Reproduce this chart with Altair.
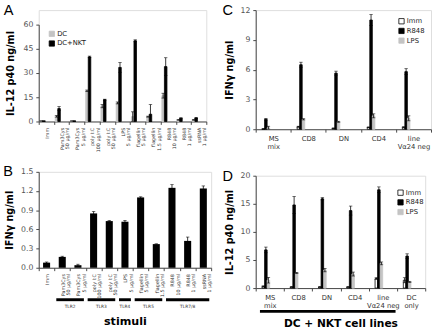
import altair as alt
import pandas as pd

FONT = "DejaVu Sans"
LETTER_FONT = "Liberation Sans"

# ---------------- Panel A : IL-12 p40, DC vs DC+NKT ----------------
a_stimuli = ["Imm", "Pam3Cys|50 µg/ml", "Pam3Cys|5 µg/ml", "poly I:C|100 µg/ml",
             "poly I:C|50 µg/ml", "LPS|5 µg/ml", "flagellin|5 µg/ml",
             "flagellin|1.5 µg/ml", "R848|10 µg/ml", "R848|1 µg/ml", "ssRNA|1 µg/ml"]
a_series = ["DC", "DC+NKT"]
a_dc = [0.3, 3.2, 0.3, 19.0, 9.5, 11.5, 3.0, 3.0, 16.0, 1.0, 1.0]
a_dc_err = [0.1, 0.5, 0.1, 0.5, 1.0, 0.6, 3.0, 0.3, 1.5, 0.2, 0.2]
a_nkt = [0.3, 8.0, 0.3, 40.0, 13.5, 33.5, 50.0, 4.5, 34.0, 2.0, 2.2]
a_nkt_err = [0.1, 1.2, 0.1, 0.5, 0.3, 3.0, 0.6, 6.0, 5.5, 0.3, 0.3]

# ---------------- Panel B : IFNg per stimulus ----------------
b_values = [0.08, 0.17, 0.04, 0.85, 0.73, 0.72, 1.10, 0.37, 1.25, 0.42, 1.24]
b_err = [0.01, 0.01, 0.015, 0.03, 0.01, 0.02, 0.01, 0.005, 0.05, 0.06, 0.04]
tlr_labels = ["TLR2", "TLR3", "TLR4", "TLR5", "TLR7/8"]
tlr_start = ["Pam3Cys|50 µg/ml", "poly I:C|100 µg/ml", "LPS|5 µg/ml", "flagellin|5 µg/ml", "R848|10 µg/ml"]
tlr_end = ["Pam3Cys|5 µg/ml", "poly I:C|50 µg/ml", "LPS|5 µg/ml", "flagellin|1.5 µg/ml", "ssRNA|1 µg/ml"]

# ---------------- Panel C : IFNg per NKT line ----------------
c_lines = ["MS|mix", "CD8", "DN", "CD4", "line|Vα24 neg"]
cd_series = ["Imm", "R848", "LPS"]
c_imm = [0.03, 0.25, 0.1, 0.2, 0.2]
c_imm_err = [0.02, 0.05, 0.02, 0.02, 0.05]
c_r848 = [1.0, 6.5, 5.65, 11.0, 5.8]
c_r848_err = [0.08, 0.25, 0.2, 0.55, 0.3]
c_lps = [0.15, 1.0, 0.75, 1.35, 1.1]
c_lps_err = [0.15, 0.06, 0.05, 0.2, 0.25]

# ---------------- Panel D : IL-12 p40 per NKT line ----------------
d_lines = ["MS|mix", "CD8", "DN", "CD4", "line|Vα24 neg", "DC|only"]
d_imm = [0.3, 0.2, 0.2, 0.2, 1.7, 1.4]
d_imm_err = [0.1, 0.05, 0.05, 0.05, 0.15, 0.45]
d_r848 = [6.8, 14.8, 15.9, 13.8, 17.5, 5.7]
d_r848_err = [0.5, 1.5, 0.2, 0.8, 0.5, 0.4]
d_lps = [1.4, 2.7, 3.2, 2.5, 4.4, 1.1]
d_lps_err = [0.5, 0.1, 0.3, 0.35, 0.25, 0.1]
d_span_start = ["MS|mix"]
d_span_end = ["line|Vα24 neg"]


def long_df(cats, series, vals, errs):
    rows = []
    for s, v, e in zip(series, vals, errs):
        for c, vv, ee in zip(cats, v, e):
            rows.append({"cat": c, "series": s, "value": vv,
                         "lo": max(vv - ee, 0), "hi": vv + ee})
    return pd.DataFrame(rows)


def y_enc(field, domain, rng, values, title, fmt=None, title_pad=6):
    ax_kw = dict(values=values, title=title, titleFontSize=10, titleFontWeight="bold",
                 titleFont=FONT, titleColor="black", titlePadding=title_pad,
                 labelFontSize=8, labelFont=FONT, labelColor="#555", labelPadding=3,
                 tickSize=3, domainColor="#444", tickColor="#444", grid=False)
    if fmt:
        ax_kw["format"] = fmt
    sc_kw = dict(domain=domain, nice=False, zero=True)
    if rng is not None:
        sc_kw["range"] = rng
    return alt.Y(f"{field}:Q", scale=alt.Scale(**sc_kw), axis=alt.Axis(**ax_kw))


def letter(txt, offset, dx=-2):
    return alt.TitleParams(txt, anchor="start", frame="bounds", font=LETTER_FONT,
                           fontSize=15, fontWeight="normal", color="black",
                           dx=dx, offset=offset)


def grouped_panel(df, cats, series, fills, strokes, width, height, ydom, yrng, yvals,
                  ytitle, xaxis, off_inner, off_outer, leg_x, leg_y, title,
                  ytitle_pad=6, extra=None):
    xenc = alt.X("cat:N", sort=cats,
                 scale=alt.Scale(domain=cats, paddingInner=0, paddingOuter=0), axis=xaxis)
    xoff = alt.XOffset("series:N", sort=series,
                       scale=alt.Scale(domain=series, paddingInner=off_inner, paddingOuter=off_outer))
    leg = alt.Legend(title=None, orient="none", legendX=leg_x, legendY=leg_y,
                     symbolType="square", symbolSize=30, symbolStrokeWidth=0.8,
                     labelFontSize=7, labelFont=FONT, labelColor="#222",
                     rowPadding=1, labelOffset=2, padding=0)
    bars = alt.Chart(df).mark_bar(strokeWidth=0.8).encode(
        x=xenc, xOffset=xoff,
        y=y_enc("value", ydom, yrng, yvals, ytitle, title_pad=ytitle_pad),
        color=alt.Color("series:N", sort=series, scale=alt.Scale(domain=series, range=fills), legend=leg),
        stroke=alt.Stroke("series:N", sort=series, scale=alt.Scale(domain=series, range=strokes), legend=leg),
    )
    rules = alt.Chart(df).mark_rule(color="black", strokeWidth=0.8).encode(
        x=xenc, xOffset=xoff,
        y=y_enc("lo", ydom, yrng, yvals, ytitle, title_pad=ytitle_pad), y2=alt.Y2("hi"))
    tick_hi = alt.Chart(df).mark_tick(color="black", thickness=0.8, size=3.5).encode(
        x=xenc, xOffset=xoff, y=y_enc("hi", ydom, yrng, yvals, ytitle, title_pad=ytitle_pad))
    tick_lo = alt.Chart(df).mark_tick(color="black", thickness=0.8, size=3.5).encode(
        x=xenc, xOffset=xoff, y=y_enc("lo", ydom, yrng, yvals, ytitle, title_pad=ytitle_pad))
    layers = [bars, rules, tick_hi, tick_lo]
    if extra:
        layers += extra()
    return alt.layer(*layers).properties(width=width, height=height, title=title)


def x_axis(fs, angle, lh, title=None, title_pad=4, title_fs=11, label_color="#333"):
    kw = dict(labelExpr="split(datum.label, '|')", labelFontSize=fs, labelFont=FONT,
              labelColor=label_color, labelAngle=angle, labelLineHeight=lh, labelPadding=3,
              tickBand="extent", tickSize=3, domainColor="#444", tickColor="#444",
              labelOverlap=False, titleFont=FONT, titleFontSize=title_fs,
              titleFontWeight="bold", titleColor="black", titlePadding=title_pad)
    kw["title"] = title
    return alt.Axis(**kw)


# ---------- A ----------
dfA = long_df(a_stimuli, a_series, [a_dc, a_nkt], [a_dc_err, a_nkt_err])
A_W, A_H = 173, 115
panelA = grouped_panel(
    dfA, a_stimuli, a_series, ["#c4c4c4", "black"], ["#c4c4c4", "black"],
    A_W, A_H, [0, 60], [A_H, 15], [0, 15, 30, 45, 60], "IL-12 p40 ng/ml",
    x_axis(5, 270, 5.5), 0, 0.5, 10, 21, letter("A", -8), ytitle_pad=8)

# ---------- B ----------
dfB = pd.DataFrame({"cat": a_stimuli, "value": b_values,
                    "lo": [max(v - e, 0) for v, e in zip(b_values, b_err)],
                    "hi": [v + e for v, e in zip(b_values, b_err)]})
B_W, B_H = 178, 99
xB_axis = x_axis(5, 270, 5.5, title="stimuli", title_pad=18, title_fs=11.5)
xB_scale = alt.Scale(domain=a_stimuli, paddingInner=0, paddingOuter=0)
xB = alt.X("cat:N", sort=a_stimuli, scale=xB_scale, axis=xB_axis)
yB = lambda f: y_enc(f, [0, 1.5], None, [0, 0.3, 0.6, 0.9, 1.2, 1.5], "IFNγ ng/ml", fmt=".1f")
barsB = alt.Chart(dfB).mark_bar(color="black", width={"band": 0.45}).encode(x=xB, y=yB("value"))
rulesB = alt.Chart(dfB).mark_rule(color="black", strokeWidth=0.8).encode(x=xB, y=yB("lo"), y2=alt.Y2("hi"))
ticksB = alt.Chart(dfB).mark_tick(color="black", thickness=0.8, size=3.5).encode(x=xB, y=yB("hi"))

dfTLR = pd.DataFrame({"start": tlr_start, "end": tlr_end, "label": tlr_labels})
tlr_bar = alt.Chart(dfTLR).mark_rule(color="black", strokeWidth=3).encode(
    x=alt.X("start:N", sort=a_stimuli, scale=xB_scale, axis=xB_axis, bandPosition=0.12),
    x2=alt.X2("end", bandPosition=0.88),
    y=alt.value(B_H + 33))
tlr_mid2 = dfTLR[dfTLR["label"].isin(["TLR2", "TLR3", "TLR5"])]
tlr_mid1 = dfTLR[~dfTLR["label"].isin(["TLR2", "TLR3", "TLR5"])].assign(
    mid=lambda d: [a_stimuli[a_stimuli.index(s) + (1 if s != e else 0)] for s, e in zip(d["start"], d["end"])])
tlr_txt2 = alt.Chart(tlr_mid2).mark_text(fontSize=4.5, font=FONT, color="#333", baseline="top").encode(
    x=alt.X("end:N", sort=a_stimuli, scale=xB_scale, axis=xB_axis, bandPosition=0),
    y=alt.value(B_H + 38), text="label:N")
tlr_txt1 = alt.Chart(tlr_mid1).mark_text(fontSize=4.5, font=FONT, color="#333", baseline="top").encode(
    x=alt.X("mid:N", sort=a_stimuli, scale=xB_scale, axis=xB_axis, bandPosition=0.5),
    y=alt.value(B_H + 38), text="label:N")
panelB = alt.layer(barsB, rulesB, ticksB, tlr_bar, tlr_txt2, tlr_txt1).properties(
    width=B_W, height=B_H, title=letter("B", -11.5))

# ---------- C ----------
dfC = long_df(c_lines, cd_series, [c_imm, c_r848, c_lps], [c_imm_err, c_r848_err, c_lps_err])
C_W, C_H = 181, 123
panelC = grouped_panel(
    dfC, c_lines, cd_series, ["white", "black", "#c4c4c4"], ["black", "black", "#c4c4c4"],
    C_W, C_H, [0, 12], None, [0, 3, 6, 9, 12], "IFNγ ng/ml",
    x_axis(7, 0, 8), 0.15, 0.5, 147, 8, letter("C", -12.5))

# ---------- D ----------
dfD = long_df(d_lines, cd_series, [d_imm, d_r848, d_lps], [d_imm_err, d_r848_err, d_lps_err])
D_W, D_H = 175, 116
xD_axis = x_axis(7, 0, 8, title="DC + NKT cell lines", title_pad=10, title_fs=11)
xD_scale = alt.Scale(domain=d_lines, paddingInner=0, paddingOuter=0)


def d_extra():
    dspan = pd.DataFrame({"start": d_span_start, "end": d_span_end})
    return [alt.Chart(dspan).mark_rule(color="black", strokeWidth=3).encode(
        x=alt.X("start:N", sort=d_lines, scale=xD_scale, axis=xD_axis, bandPosition=0.15),
        x2=alt.X2("end", bandPosition=0.95),
        y=alt.value(D_H + 24))]


panelD = grouped_panel(
    dfD, d_lines, cd_series, ["white", "black", "#c4c4c4"], ["black", "black", "#c4c4c4"],
    D_W, D_H, [0, 20], None, [0, 5, 10, 15, 20], "IL-12 p40 ng/ml",
    xD_axis, 0.1, 0.6, 146, 14, letter("D", -12.5), extra=d_extra)

left = alt.vconcat(panelA, panelB, spacing=12).resolve_scale(color="independent", stroke="independent")
right = alt.vconcat(panelC, panelD, spacing=19).resolve_scale(color="independent", stroke="independent")
chart = alt.hconcat(left, right, spacing=10).resolve_scale(
    color="independent", stroke="independent"
).properties(
    padding={"left": 2, "top": -3, "right": 0, "bottom": 0}
).configure_view(stroke=None).configure(font=FONT)

chart.save("out.html", embed_options={"renderer": "svg", "actions": False})
